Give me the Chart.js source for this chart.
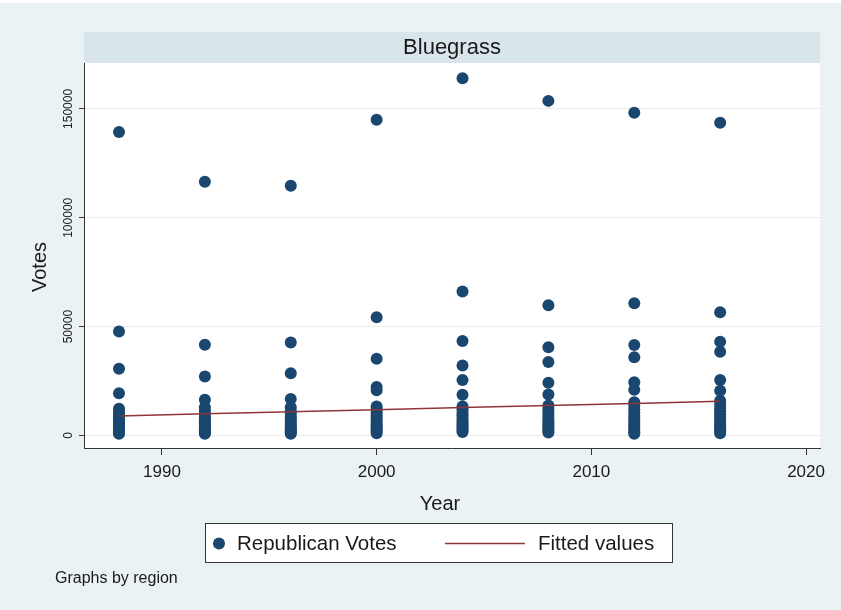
<!DOCTYPE html>
<html>
<head>
<meta charset="utf-8">
<script src="https://cdn.jsdelivr.net/npm/chart.js@4.4.0/dist/chart.umd.min.js"></script>
<style>
  html, body { margin: 0; padding: 0; background: #eaf2f3; }
  #wrap { width: 841px; height: 610px; }
</style>
</head>
<body>
<div id="wrap"><canvas id="chart" width="841" height="610"></canvas></div>
<script>
// Republican votes by county, Bluegrass region, presidential election years
const panelTitle = 'Bluegrass';
const years = [1988, 1992, 1996, 2000, 2004, 2008, 2012, 2016];

const votes1988 = [139400, 47800, 30600, 19400, 12300, 10800, 9600, 8400, 7300, 6300, 5400, 4600, 3800, 3100, 2400, 1800, 1200, 800];
const votes1992 = [116600, 41700, 27100, 16400, 13000, 11200, 9900, 8600, 7500, 6500, 5600, 4800, 4000, 3200, 2500, 1900, 1300, 800];
const votes1996 = [114700, 42700, 28600, 16800, 13000, 11300, 10000, 8800, 7600, 6600, 5700, 4800, 4000, 3200, 2500, 1900, 1300, 800];
const votes2000 = [145000, 54300, 35200, 22300, 20800, 13300, 12000, 10600, 9300, 8100, 7000, 6000, 5000, 4100, 3300, 2500, 1800, 1000];
const votes2004 = [164100, 66100, 43400, 32100, 25500, 18700, 13300, 12000, 10600, 9300, 8100, 7000, 6000, 5000, 4100, 3200, 2400, 1600];
const votes2008 = [153700, 59800, 40500, 33800, 24200, 18800, 13800, 12300, 10800, 9500, 8200, 7100, 6000, 5000, 4000, 3100, 2200, 1400];
const votes2012 = [148200, 60700, 41600, 35900, 24400, 21000, 15300, 13500, 11900, 10400, 9000, 7800, 6600, 5500, 4500, 3500, 2500, 1500, 800];
const votes2016 = [143600, 56600, 43100, 38500, 25500, 20600, 16000, 14200, 12500, 11000, 9600, 8300, 7100, 6000, 4900, 3900, 2900, 1900, 1000];

// Linear fit of votes on year, evaluated at each election year
const fittedValues = [9000, 9960, 10910, 11870, 12830, 13780, 14740, 15700];

const xTickValues = [1990, 2000, 2010, 2020];
const yTickValues = [0, 50000, 100000, 150000];

const votesByYear = [votes1988, votes1992, votes1996, votes2000, votes2004, votes2008, votes2012, votes2016];

const scatterPoints = [];
years.forEach((yr, i) => votesByYear[i].forEach(v => scatterPoints.push({ x: yr, y: v })));
const fitPoints = years.map((yr, i) => ({ x: yr, y: fittedValues[i] }));

const FONT = '"Liberation Sans", Arial, Helvetica, sans-serif';
const NAVY = '#1a476f';
const MAROON = '#90353b';
const BG = '#eaf2f3';
const STRIP = '#d8e5ea';
const INK = '#1a1a1a';

// Stata-style frame: background, by-panel strip, axis labels/titles, legend, note
const stataFrame = {
  id: 'stataFrame',
  beforeDraw(chart) {
    const { ctx, chartArea: a, width, height } = chart;
    ctx.save();
    ctx.fillStyle = BG;
    ctx.fillRect(0, 0, width, height);
    ctx.fillStyle = '#ffffff';
    ctx.fillRect(0, 0, width, 3);
    ctx.fillRect(a.left, a.top, a.right - a.left, a.bottom - a.top);
    // panel strip
    ctx.fillStyle = STRIP;
    ctx.fillRect(a.left, 32, a.right - a.left, a.top - 32);
    ctx.fillStyle = INK;
    ctx.font = '22px ' + FONT;
    ctx.textAlign = 'center';
    ctx.textBaseline = 'middle';
    ctx.fillText(panelTitle, (a.left + a.right) / 2, 48);
    ctx.restore();
  },
  afterDraw(chart) {
    const { ctx } = chart;
    const xs = chart.scales.x, ys = chart.scales.y;
    ctx.save();
    ctx.fillStyle = INK;

    // y tick labels, rotated
    ctx.font = '12px ' + FONT;
    ctx.textAlign = 'center';
    ctx.textBaseline = 'middle';
    ys.ticks.forEach(t => {
      const py = ys.getPixelForValue(t.value);
      ctx.save();
      ctx.translate(69, py);
      ctx.rotate(-Math.PI / 2);
      ctx.fillText(String(t.value), 0, 0);
      ctx.restore();
    });

    // x tick labels
    ctx.font = '17px ' + FONT;
    xs.ticks.forEach(t => {
      ctx.fillText(String(t.value), xs.getPixelForValue(t.value), 472);
    });

    // axis titles
    ctx.font = '20px ' + FONT;
    ctx.fillText('Year', 440, 504);
    ctx.save();
    ctx.translate(40, 267);
    ctx.rotate(-Math.PI / 2);
    ctx.fillText('Votes', 0, 0);
    ctx.restore();

    // legend
    const ds = chart.data.datasets;
    const scatterDs = ds.find(d => d.type !== 'line');
    const lineDs = ds.find(d => d.type === 'line');
    const lx = 205, ly = 523, lw = 467, lh = 39, cy = ly + lh / 2 + 1;
    ctx.fillStyle = '#ffffff';
    ctx.fillRect(lx, ly, lw, lh);
    ctx.strokeStyle = '#333333';
    ctx.lineWidth = 1;
    ctx.strokeRect(lx + 0.5, ly + 0.5, lw, lh);
    ctx.fillStyle = scatterDs.backgroundColor;
    ctx.beginPath();
    ctx.arc(219, cy, 6, 0, Math.PI * 2);
    ctx.fill();
    ctx.fillStyle = INK;
    ctx.font = '20.5px ' + FONT;
    ctx.textAlign = 'left';
    ctx.fillText(scatterDs.label, 237, cy + 1);
    ctx.strokeStyle = lineDs.borderColor;
    ctx.lineWidth = 1.5;
    ctx.beginPath();
    ctx.moveTo(445, cy);
    ctx.lineTo(525, cy);
    ctx.stroke();
    ctx.fillText(lineDs.label, 538, cy + 1);

    // note
    ctx.font = '16px ' + FONT;
    ctx.fillText('Graphs by region', 55, 579);
    ctx.restore();
  }
};

new Chart(document.getElementById('chart'), {
  type: 'scatter',
  data: {
    datasets: [
      {
        type: 'scatter',
        label: 'Republican Votes',
        data: scatterPoints,
        backgroundColor: NAVY,
        borderColor: NAVY,
        borderWidth: 0,
        pointRadius: 6,
        pointHoverRadius: 6,
        order: 1
      },
      {
        type: 'line',
        label: 'Fitted values',
        data: fitPoints,
        borderColor: MAROON,
        borderWidth: 1.5,
        pointRadius: 0,
        fill: false,
        tension: 0,
        order: 0
      }
    ]
  },
  options: {
    responsive: false,
    animation: false,
    devicePixelRatio: 1,
    layout: { padding: { top: 63, right: 21, left: 0, bottom: 0 } },
    plugins: { legend: { display: false }, tooltip: { enabled: false }, title: { display: false } },
    events: [],
    scales: {
      x: {
        type: 'linear',
        min: 1986.37,
        max: 2020.65,
        afterBuildTicks: s => { s.ticks = xTickValues.map(v => ({ value: v })); },
        afterFit: s => { s.height = 162; },
        ticks: { display: false },
        grid: { drawOnChartArea: false, drawTicks: true, tickLength: 7, tickColor: '#333333', tickWidth: 1 },
        border: { display: true, color: '#333333', width: 1 }
      },
      y: {
        type: 'linear',
        min: -5750,
        max: 171100,
        afterBuildTicks: s => { s.ticks = yTickValues.map(v => ({ value: v })); },
        afterFit: s => { s.width = 84; },
        ticks: { display: false },
        grid: { color: '#ececec', lineWidth: 1, drawTicks: true, tickLength: 5, tickColor: '#333333', tickWidth: 1 },
        border: { display: true, color: '#333333', width: 1 }
      }
    }
  },
  plugins: [stataFrame]
});
</script>
</body>
</html>
